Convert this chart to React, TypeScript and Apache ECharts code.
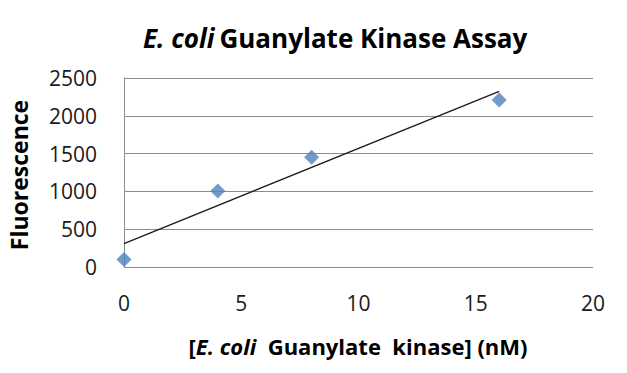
import React, { useEffect, useRef } from "react";
import * as echarts from "echarts";

const concentrations = [0, 4, 8, 16];
const fluorescence = [100, 1005, 1451, 2209];
const xTicks = [0, 5, 10, 15, 20];
const yTicks = [0, 500, 1000, 1500, 2000, 2500];

function linearFit(xs: number[], ys: number[]) {
  const n = xs.length;
  const mx = xs.reduce((a, b) => a + b, 0) / n;
  const my = ys.reduce((a, b) => a + b, 0) / n;
  let sxy = 0, sxx = 0;
  for (let i = 0; i < n; i++) {
    sxy += (xs[i] - mx) * (ys[i] - my);
    sxx += (xs[i] - mx) * (xs[i] - mx);
  }
  const slope = sxy / sxx;
  return { slope, intercept: my - slope * mx };
}

export default function App() {
  const ref = useRef<HTMLDivElement>(null);
  useEffect(() => {
    if (!ref.current) return;
    const chart = echarts.init(ref.current, null, { renderer: "svg" });
    const fit = linearFit(concentrations, fluorescence);
    const x0 = Math.min(...concentrations);
    const x1 = Math.max(...concentrations);
    const font = "'Open Sans', 'Noto Sans', sans-serif";
    chart.setOption({
      animation: false,
      backgroundColor: "#ffffff",
      title: {
        text: "{i|E. coli} {n|Guanylate Kinase Assay}",
        left: 138,
        top: 20,
        textStyle: {
          rich: {
            i: { fontFamily: font, fontSize: 26, fontWeight: "bold", fontStyle: "italic", color: "#000" },
            n: { fontFamily: font, fontSize: 26, fontWeight: "bold", color: "#000" },
          },
        },
      },
      grid: { left: 124, right: 34, top: 78, bottom: 106 },
      xAxis: {
        type: "value",
        min: xTicks[0],
        max: xTicks[xTicks.length - 1],
        interval: 5,
        axisLine: { show: false },
        axisTick: { show: false },
        splitLine: { show: false },
        axisLabel: { fontFamily: font, fontSize: 21, color: "#1a1a1a", margin: 25 },
      },
      yAxis: {
        type: "value",
        min: yTicks[0],
        max: yTicks[yTicks.length - 1],
        interval: 500,
        axisLine: { show: true, lineStyle: { color: "#8c8c8c", width: 1 } },
        axisTick: { show: false },
        splitLine: { show: true, lineStyle: { color: "#8c8c8c", width: 1 } },
        axisLabel: {
          fontFamily: font,
          fontSize: 21,
          color: "#1a1a1a",
          margin: 27,
          formatter: (v: number) => String(v),
        },
      },
      graphic: [
        {
          type: "text",
          x: 358,
          y: 346,
          style: {
            text: "[{i|E. coli}  Guanylate  kinase] (nM)",
            fontFamily: font,
            fontSize: 22,
            fontWeight: "bold",
            fill: "#000",
            align: "center",
            verticalAlign: "middle",
            rich: {
              i: { fontFamily: font, fontSize: 22, fontWeight: "bold", fontStyle: "italic", fill: "#000" },
            },
          },
        },
        {
          type: "text",
          x: 19,
          y: 175,
          rotation: Math.PI / 2,
          style: {
            text: "Fluorescence",
            fontFamily: font,
            fontSize: 23,
            fontWeight: "bold",
            fill: "#000",
            align: "center",
            verticalAlign: "middle",
          },
        },
      ],
      series: [
        {
          type: "scatter",
          data: concentrations.map((x, i) => [x, fluorescence[i]]),
          symbol: "diamond",
          symbolSize: 15,
          itemStyle: { color: "#4f81bd" },
          z: 3,
        },
        {
          type: "line",
          data: [
            [x0, fit.intercept + fit.slope * x0],
            [x1, fit.intercept + fit.slope * x1],
          ],
          symbol: "none",
          lineStyle: { color: "#1a1a1a", width: 1.3 },
          z: 2,
        },
      ],
    });
    return () => chart.dispose();
  }, []);
  return <div ref={ref} style={{ width: 627, height: 373, margin: -8 }} />;
}
